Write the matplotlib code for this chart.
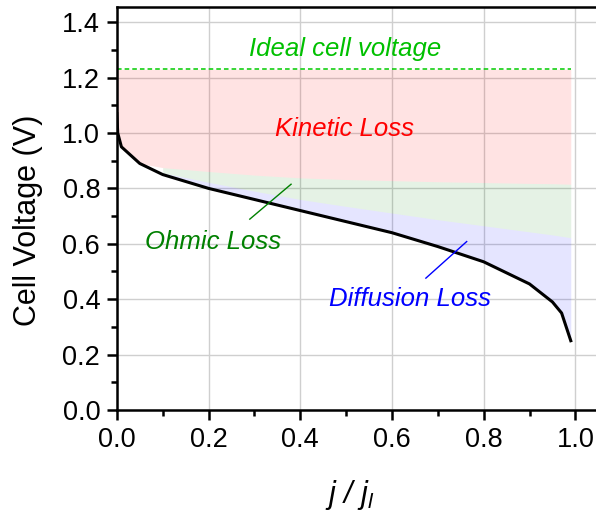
import numpy as np
import matplotlib
matplotlib.use("Agg")
import matplotlib.pyplot as plt
from matplotlib.ticker import MultipleLocator

plt.rcParams["font.family"] = ["Liberation Sans", "DejaVu Sans"]
plt.rcParams["mathtext.fontset"] = "custom"
plt.rcParams["mathtext.it"] = "Liberation Sans:italic"
plt.rcParams["mathtext.rm"] = "Liberation Sans:italic"

# polarization curve (normalised current density vs cell voltage)
j_ratio = [0.0, 0.002, 0.01, 0.05, 0.1, 0.2, 0.3, 0.4, 0.5, 0.6, 0.7, 0.8, 0.9, 0.95, 0.97, 0.99]
v_cell = [1.07, 1.00, 0.95, 0.89, 0.85, 0.80, 0.76, 0.72, 0.68, 0.64, 0.59, 0.535, 0.455, 0.39, 0.35, 0.25]
# voltage after kinetic losses only, and after kinetic + ohmic losses
v_kinetic = [1.07, 1.00, 0.95, 0.89, 0.875, 0.861, 0.848, 0.838, 0.832, 0.828, 0.824, 0.821, 0.818, 0.817, 0.816, 0.815]
v_ohmic = [1.07, 1.00, 0.95, 0.89, 0.856, 0.822, 0.790, 0.760, 0.735, 0.711, 0.687, 0.665, 0.643, 0.632, 0.627, 0.622]
E_ideal = 1.23

x = np.array(j_ratio)
v = np.array(v_cell)
vk = np.array(v_kinetic)
vo = np.array(v_ohmic)

fig = plt.figure(figsize=(5.96, 5.17), dpi=100)
ax = fig.add_axes([0.196, 0.207, 0.804, 0.779])

ax.fill_between(x, E_ideal, np.maximum(vk, v), color="red", alpha=0.11, lw=0)
ax.fill_between(x, vk, np.maximum(vo, v), where=vk > v, color="green", alpha=0.10, lw=0)
ax.fill_between(x, vo, v, where=vo > v, color="blue", alpha=0.10, lw=0)
ax.plot([0, x[-1]], [E_ideal, E_ideal], color="#00cc00", ls="--", lw=1.1, dashes=(3, 2))
ax.plot(x, v, color="black", lw=2.2, solid_joinstyle="round")

# labels and pointer lines
ax.text(0.497, 1.303, "Ideal cell voltage", color="#00c000", style="italic",
        fontsize=18.5, ha="center", va="center")
ax.text(0.497, 1.016, "Kinetic Loss", color="red", style="italic",
        fontsize=18.5, ha="center", va="center")
ax.text(0.21, 0.605, "Ohmic Loss", color="#008000", style="italic",
        fontsize=18.5, ha="center", va="center")
ax.plot([0.29, 0.38], [0.689, 0.815], color="#008000", lw=1.0)
ax.text(0.639, 0.40, "Diffusion Loss", color="blue", style="italic",
        fontsize=18.5, ha="center", va="center")
ax.plot([0.674, 0.763], [0.476, 0.608], color="blue", lw=1.0)

ax.set_xlim(0, 1.045)
ax.set_ylim(0, 1.454)
ax.xaxis.set_major_locator(MultipleLocator(0.2))
ax.xaxis.set_minor_locator(MultipleLocator(0.1))
ax.yaxis.set_major_locator(MultipleLocator(0.2))
ax.yaxis.set_minor_locator(MultipleLocator(0.1))
ax.xaxis.set_major_formatter(lambda val, pos: f"{val:.1f}")
ax.yaxis.set_major_formatter(lambda val, pos: f"{val:.1f}")

ax.grid(True, which="major", color="#cfcfcf", lw=1.0)
ax.set_axisbelow(True)
ax.spines["right"].set_visible(False)
for side in ["left", "bottom", "top"]:
    ax.spines[side].set_linewidth(1.8)

ax.tick_params(which="major", direction="out", length=7, width=1.8, labelsize=19.5, pad=5)
ax.tick_params(which="minor", direction="out", length=4, width=1.8)

ax.set_xlabel(r"$j$ / $j_l$", fontsize=22, style="italic")
ax.xaxis.set_label_coords(0.486, -0.17)
ax.set_ylabel("Cell Voltage (V)", fontsize=22)
ax.yaxis.set_label_coords(-0.155, 0.47)

fig.savefig("out.png", dpi=100)
